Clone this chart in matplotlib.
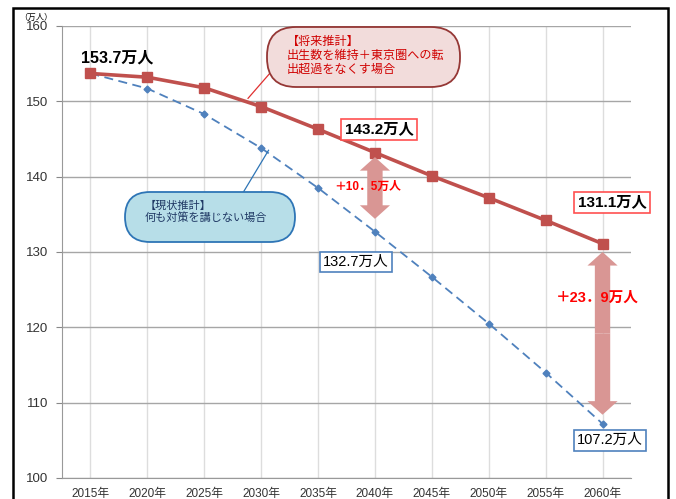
import matplotlib
matplotlib.use("Agg")
import matplotlib.pyplot as plt
from matplotlib.patches import FancyArrow, Rectangle, FancyBboxPatch

plt.rcParams['font.family'] = ['Liberation Sans', 'Noto Sans CJK JP', 'DejaVu Sans']
jp = ['Noto Sans CJK JP', 'DejaVu Sans']

years = ["2015年", "2020年", "2025年", "2030年", "2035年",
         "2040年", "2045年", "2050年", "2055年", "2060年"]
future = [153.7, 153.2, 151.8, 149.3, 146.3, 143.2, 140.1, 137.2, 134.2, 131.1]
current = [153.7, 151.7, 148.3, 143.8, 138.5, 132.7, 126.7, 120.5, 114.0, 107.2]

red = '#c0504d'
blue = '#4f81bd'
pink = '#d99694'

fig = plt.figure(figsize=(6.76, 4.99), dpi=100)
ax = fig.add_axes([0.0917, 0.0421, 0.8417, 0.9058])
x = list(range(len(years)))

ax.set_xlim(-0.5, 9.5)
ax.set_ylim(100, 160)
ax.set_yticks(range(100, 161, 10))
ax.set_xticks(x)
ax.set_xticklabels(years, fontsize=8.5, color='#333333')
ax.tick_params(axis='x', length=0, pad=7)
ax.tick_params(axis='y', length=4, color='#888888', labelsize=9.5, labelcolor='#333333', pad=6)
ax.grid(axis='y', color='#a6a6a6', lw=1.0, zorder=0)
ax.grid(axis='x', color='#dddddd', lw=1.0, zorder=0)
for s in ['top', 'right']:
    ax.spines[s].set_visible(False)
for s in ['left', 'bottom']:
    ax.spines[s].set_color('#999999')

# lines
ax.plot(x, current, color=blue, lw=1.3, ls=(0, (5, 3)), marker='D', ms=3.5, zorder=3)
ax.plot(x, future, color=red, lw=2.6, marker='s', ms=7, zorder=4)

# difference arrows
def dbl_arrow(xc, top, bottom):
    mid = (top + bottom) / 2
    for end in (top, bottom):
        ax.add_patch(FancyArrow(xc, mid, 0, end - mid, width=0.27, head_width=0.53,
                                head_length=1.8, length_includes_head=True,
                                color=pink, lw=0, zorder=5))

dbl_arrow(5, future[5] - 0.6, current[5] + 1.7)
dbl_arrow(9, future[9] - 1.1, current[9] + 1.2)

ax.text(4.88, 138.6, "＋10．5万人", color='#ff0000', fontsize=8.5, fontweight='bold',
        ha='center', va='center', zorder=6)
ax.text(8.90, 123.9, "＋23．9万人", color='#ff0000', fontsize=10.5, fontweight='bold',
        ha='center', va='center', zorder=6)

# value labels
ax.text(0.47, 155.8, "153.7万人", fontsize=11.5, fontweight='bold', ha='center', va='center')
ax.text(5.07, 146.3, "143.2万人", fontsize=11, fontweight='bold', ha='center', va='center',
        bbox=dict(boxstyle='square,pad=0.22', fc='white', ec='#ff5050', lw=1.2), zorder=6)
ax.text(9.17, 136.6, "131.1万人", fontsize=11, fontweight='bold', ha='center', va='center',
        bbox=dict(boxstyle='square,pad=0.22', fc='white', ec='#ff5050', lw=1.2), zorder=6)
ax.text(4.67, 128.7, "132.7万人", fontsize=10.5, ha='center', va='center',
        bbox=dict(boxstyle='square,pad=0.22', fc='white', ec='#4f81bd', lw=1.2), zorder=6)
ax.text(9.13, 105.0, "107.2万人", fontsize=10.5, ha='center', va='center',
        bbox=dict(boxstyle='square,pad=0.22', fc='white', ec='#4f81bd', lw=1.2), zorder=6)

# callouts (boxes in inches from the bottom-left corner)
ax.plot([2.77, 3.22], [150.4, 154.3], color='#e03030', lw=0.9, zorder=6)
fig.patches.append(FancyBboxPatch((2.67, 4.12), 1.93, 0.60,
                                  boxstyle='round,pad=0,rounding_size=0.29',
                                  transform=fig.dpi_scale_trans,
                                  fc='#f2dcdb', ec='#953735', lw=1.3, zorder=7))
fig.text(287 / 676, 1 - 55 / 499, "【将来推計】\n出生数を維持＋東京圏への転\n出超過をなくす場合",
         color='#d00000', fontsize=8.7, ha='left', va='center', linespacing=1.1,
         family=jp, zorder=8)

ax.plot([3.13, 2.66], [143.5, 137.6], color='#2e75b6', lw=0.9, zorder=6)
fig.patches.append(FancyBboxPatch((1.25, 2.57), 1.70, 0.50,
                                  boxstyle='round,pad=0,rounding_size=0.25',
                                  transform=fig.dpi_scale_trans,
                                  fc='#b7dee8', ec='#2e75b6', lw=1.3, zorder=7))
fig.text(145 / 676, 1 - 212 / 499, "【現状推計】\n何も対策を講じない場合",
         color='#1f3864', fontsize=8.0, ha='left', va='center', linespacing=1.2,
         family=jp, zorder=8)

fig.text(0.028, 0.966, "（万人）", fontsize=6, ha='left', va='center', family=jp, zorder=10)

# outer frame
fig.patches.append(Rectangle((0.0192, -0.05), 0.969, 1.033, transform=fig.transFigure,
                             fill=False, ec='black', lw=1.8, zorder=1))

fig.savefig("out.png", dpi=100)
